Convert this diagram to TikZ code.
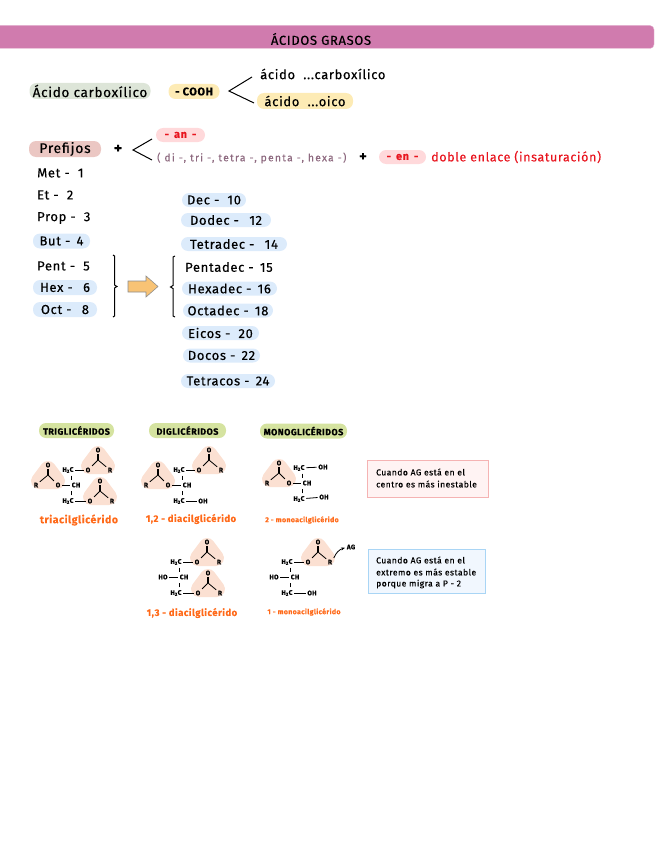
\documentclass[tikz,border=0pt]{standalone}
\usepackage{fontspec}
\setmainfont[LetterSpace=5,FakeBold=0.25]{Fira Sans}
\usetikzlibrary{arrows.meta}
\definecolor{banda}{HTML}{D07BAE}
\definecolor{bandaborde}{HTML}{E8BAD5}
\definecolor{verdepill}{HTML}{DDE5D8}
\definecolor{amarillo}{HTML}{FDEBB5}
\definecolor{rosapill}{HTML}{EBC7C3}
\definecolor{rojopill}{HTML}{FFD9DB}
\definecolor{rojotexto}{HTML}{E8141E}
\definecolor{malva}{HTML}{8E6A80}
\definecolor{azulpill}{HTML}{DCEBFB}
\definecolor{lima}{HTML}{D5E3A0}
\definecolor{naranja}{HTML}{FF6A1A}
\definecolor{melocoton}{HTML}{FBE0D2}
\definecolor{flechanar}{HTML}{F8C375}
\definecolor{notarojo}{HTML}{F5B3B3}
\definecolor{notarojofondo}{HTML}{FFF3F3}
\definecolor{notaazul}{HTML}{A9D5F5}
\definecolor{notaazulfondo}{HTML}{F1F7FE}
\tikzset{
  pill/.style={fill=#1, rounded corners=7pt, inner sep=0pt, font=\fontsize{13}{15}\selectfont},
  lista/.style={anchor=west, inner sep=0pt, font=\fontsize{13}{15}\selectfont},
  cabecera/.style={fill=lima, rounded corners=7pt, inner sep=0pt, minimum height=15pt, font=\bfseries\fontsize{9}{11}\selectfont},
  etiqueta/.style={text=naranja, inner sep=0pt, font=\bfseries\fontsize{9.5}{11}\selectfont},
  atomo/.style={inner sep=1.6pt, font=\bfseries\fontsize{6.5}{7}\selectfont},
  enlace/.style={line width=0.8pt},
  nota/.style={anchor=west, inner sep=0pt, font=\fontsize{8.6}{10}\selectfont},
  ester/.pic={
    \filldraw[melocoton, line width=16pt, line join=round] (0,-6) -- (-9,6) -- (9,6) -- cycle;
    \coordinate (v) at (0,0);
    \node[atomo] (o) at (-10,10) {O};
    \node[atomo] (d) at (0,-10) {O};
    \node[atomo] (r) at (12,10) {R};
    \draw[enlace] (o) -- (v) -- (r);
    \draw[enlace] ([xshift=-0.7pt]d.south) -- ([xshift=-0.7pt]v);
    \draw[enlace] ([xshift=0.7pt]d.south) -- ([xshift=0.7pt]v);
  },
  glicerol/.pic={
    \node[atomo] (c) at (0,0) {CH};
    \node[atomo] (a) at (-8,-15) {H\textsubscript{2}C};
    \node[atomo] (b) at (-8,16) {H\textsubscript{2}C};
    \draw[enlace] (a.south east) ++(-4,1) -- ++(0,4);
    \draw[enlace] (b.north east) ++(-4,-1) -- ++(0,-4);
  },
}
\begin{document}
\begin{tikzpicture}[x=1pt, y=-1pt]
  \useasboundingbox (0,0) rectangle (655,848);

  % Title
  \draw[fill=banda, draw=bandaborde, rounded corners=4pt] (-6,25.5) rectangle (654,48.5);
  \node[inner sep=0pt, font=\fontsize{13}{15}\selectfont] (titulo) at (321,39) {ÁCIDOS GRASOS};

  % Carboxylic acid
  \node[pill=verdepill, minimum width=121pt, minimum height=16pt, font=\fontsize{13.5}{15}\selectfont] (acido) at (90,91) {Ácido carboxílico};
  \node[pill=amarillo, minimum width=51pt, minimum height=15pt, font=\bfseries\fontsize{11}{13}\selectfont] (cooh) at (194,91.5) {- COOH};
  \coordinate (forkA) at (229,91);
  \coordinate (forkB) at (252,77);
  \coordinate (forkC) at (254,103);
  \draw[line width=1pt] (forkB) -- (forkA) -- (forkC);
  \node[lista] (carbox) at (260,74) {ácido \ ...carboxílico};
  \node[pill=amarillo, minimum width=96pt, minimum height=16pt] (oico) at (305,101) {ácido \ ...oico};

  % Prefixes
  \node[pill=rosapill, minimum width=72pt, minimum height=16pt, font=\fontsize{14}{16}\selectfont] (prefijos) at (65,149) {Prefijos};
  \node[inner sep=0pt, font=\bfseries\fontsize{15}{17}\selectfont] (mas1) at (118,149) {+};
  \coordinate (forkD) at (133,150);
  \coordinate (forkE) at (152,139);
  \coordinate (forkF) at (152,160);
  \draw[line width=1pt] (forkE) -- (forkD) -- (forkF);
  \node[pill=rojopill, text=rojotexto, minimum width=49pt, minimum height=14pt, font=\bfseries\fontsize{11}{13}\selectfont] (an) at (180.5,135) {- \,an\, -};
  \node[lista, text=malva, font=\fontsize{10.3}{12}\selectfont\addfontfeature{LetterSpace=12}] (multi) at (157,158) {( di -, tri -, tetra -, penta -, hexa -)};
  \node[inner sep=0pt, font=\bfseries\fontsize{14}{16}\selectfont] (mas2) at (363,157) {+};
  \node[pill=rojopill, text=rojotexto, minimum width=47pt, minimum height=14pt, font=\bfseries\fontsize{11}{13}\selectfont] (en) at (402.5,157) {- \,en\, -};
  \node[lista, text=rojotexto, font=\fontsize{12.5}{14}\selectfont] (doble) at (431,157) {doble enlace (insaturación)};

  % Short chains
  \node[lista] (met) at (37,173) {Met - \ 1};
  \node[lista] (et) at (37,195) {Et - \ 2};
  \node[lista] (prop) at (37,218) {Prop - \ 3};
  \node[pill=azulpill, minimum width=57pt, minimum height=15pt] (but) at (61.5,241) {But - \,4};
  \node[lista] (pent) at (37,266) {Pent - \ 5};
  \node[pill=azulpill, minimum width=64pt, minimum height=15pt] (hex) at (65,287.5) {Hex - \ \,6};
  \node[pill=azulpill, minimum width=64pt, minimum height=15pt] (oct) at (65,309.5) {Oct - \ \,8};

  % Long chains
  \node[pill=azulpill, minimum width=64pt, minimum height=14pt] (dec) at (214,200) {Dec - \ 10};
  \node[pill=azulpill, minimum width=90pt, minimum height=14pt] (dodec) at (226,220) {Dodec - \ \,12};
  \node[pill=azulpill, minimum width=106pt, minimum height=14pt] (tetradec) at (234,244) {Tetradec - \ \,14};
  \node[lista] (pentadec) at (185,267) {Pentadec - \,15};
  \node[pill=azulpill, minimum width=95pt, minimum height=14pt] (hexadec) at (229.5,288.5) {Hexadec - \,16};
  \node[pill=azulpill, minimum width=90pt, minimum height=14pt] (octadec) at (228,310.5) {Octadec - \,18};
  \node[pill=azulpill, minimum width=77pt, minimum height=14pt] (eicos) at (220.5,333) {Eicos - \ 20};
  \node[pill=azulpill, minimum width=77pt, minimum height=14pt] (docos) at (221.5,355.5) {Docos - \,22};
  \node[pill=azulpill, minimum width=94pt, minimum height=14pt] (tetracos) at (228,381) {Tetracos - \,24};

  % Braces and arrow
  \draw[line width=1pt] (113,255) -- (114.5,256) -- (114.5,285) -- (117,286.5) -- (114.5,288) -- (114.5,316) -- (113,317);
  \draw[line width=1pt] (175,256) -- (173,257) -- (173,285.5) -- (170.5,287) -- (173,288.5) -- (173,316) -- (175,317);
  \draw[draw=black!45, fill=flechanar, line width=0.6pt] (128,281) -- (146,281) -- (146,276) -- (158,286.5) -- (146,297) -- (146,292) -- (128,292) -- cycle;

  % Headers
  \node[cabecera, minimum width=75pt] (tri) at (76.5,430.5) {TRIGLICÉRIDOS};
  \node[cabecera, minimum width=77pt] (di) at (187.5,430.5) {DIGLICÉRIDOS};
  \node[cabecera, minimum width=87pt] (mono) at (303.5,431) {MONOGLICÉRIDOS};

  % Triglyceride
  \pic (ta) at (98,460) {ester};
  \pic[xscale=-1] (tb) at (48,475) {ester};
  \pic (tc) at (100,491) {ester};
  \pic (tg) at (76,485) {glicerol};
  \draw[enlace] (tga) -- (tao);
  \draw[enlace] (tbo) -- (tgc);
  \draw[enlace] (tgb) -- (tco);
  \node[etiqueta, font=\bfseries\fontsize{10.5}{12}\selectfont] (tn) at (79,520) {triacilglicérido};

  % 1,2 diglyceride
  \pic (da) at (209,460) {ester};
  \pic[xscale=-1] (db) at (158,475) {ester};
  \pic (dg) at (187,485) {glicerol};
  \node[atomo] (doh) at (203,501) {OH};
  \draw[enlace] (dga) -- (dao);
  \draw[enlace] (dbo) -- (dgc);
  \draw[enlace] (dgb) -- (doh);
  \node[etiqueta] (dn) at (191,519) {1,2 - diacilglicérido};

  % 2 monoglyceride
  \pic[xscale=-1] (mb) at (279,473) {ester};
  \pic (mg) at (307,483) {glicerol};
  \node[atomo] (moh) at (323,467) {OH};
  \node[atomo] (mohb) at (324,497) {OH};
  \draw[enlace] (mga) -- (moh);
  \draw[enlace] (mbo) -- (mgc);
  \draw[enlace] (mgb) -- (mohb);
  \node[etiqueta, font=\bfseries\fontsize{7}{9}\selectfont] (mn) at (302,520) {2 - monoacilglicérido};

  % 1,3 diglyceride
  \pic (ea) at (207,552) {ester};
  \pic (ec) at (208,583) {ester};
  \pic (eg) at (184,577) {glicerol};
  \node[atomo] (eho) at (163,577) {HO};
  \draw[enlace] (ega) -- (eao);
  \draw[enlace] (eho) -- (egc);
  \draw[enlace] (egb) -- (eco);
  \node[etiqueta] (en13) at (192,613) {1,3 - diacilglicérido};

  % 1 monoglyceride
  \pic (na) at (318,552) {ester};
  \pic (ng) at (295,577) {glicerol};
  \node[atomo] (nho) at (274,577) {HO};
  \node[atomo] (noh) at (312,593) {OH};
  \node[atomo] (ag) at (351,547) {AG};
  \draw[enlace] (nga) -- (nao);
  \draw[enlace] (nho) -- (ngc);
  \draw[enlace] (ngb) -- (noh);
  \draw[enlace, -{Stealth[length=4pt]}] (nar.north east) to[bend left=25] (ag);
  \node[etiqueta, font=\bfseries\fontsize{7}{9}\selectfont] (nn) at (304,612) {1 - monoacilglicérido};

  % Notes
  \draw[draw=notarojo, fill=notarojofondo, line width=1pt] (367,460) rectangle (488,497);
  \node[nota] (nota1a) at (376,472) {Cuando AG está en el};
  \node[nota] (nota1b) at (376,484) {centro es más inestable};
  \draw[draw=notaazul, fill=notaazulfondo, line width=1pt] (368,549) rectangle (485,593);
  \node[nota] (nota2a) at (376,560) {Cuando AG está en el};
  \node[nota] (nota2b) at (376,572) {extremo es más estable};
  \node[nota] (nota2c) at (376,584) {porque migra a P - 2};
\end{tikzpicture}
\end{document}
